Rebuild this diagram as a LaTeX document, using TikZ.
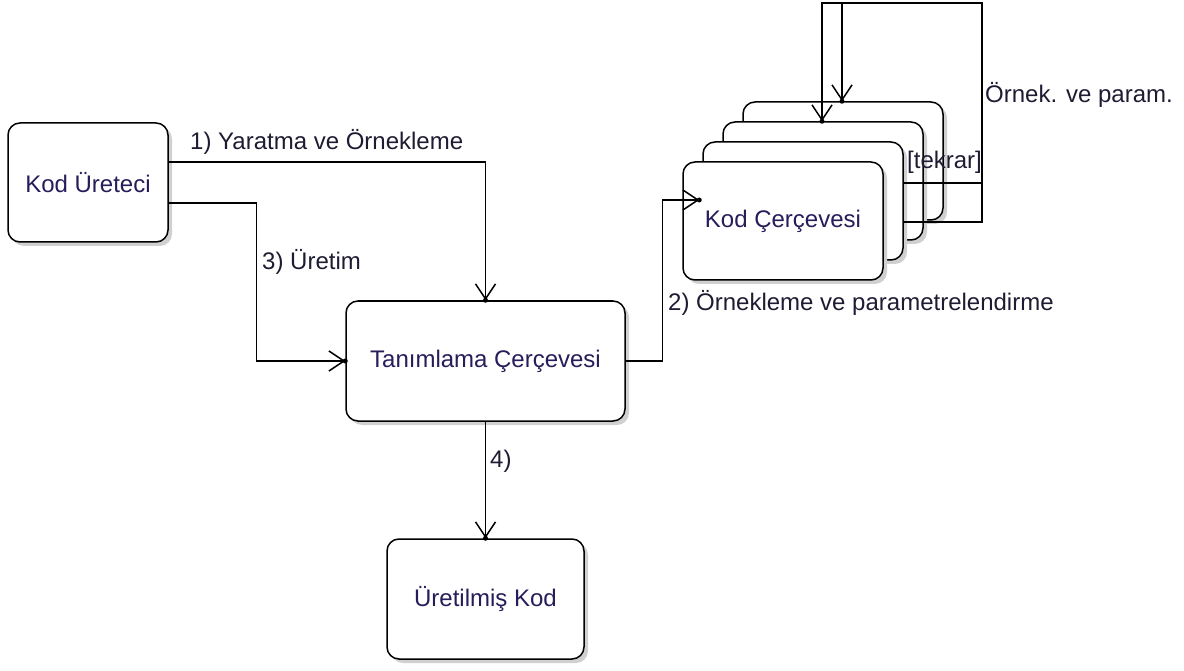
\documentclass[tikz,border=0pt]{standalone}
\usepackage{fontspec}
\setmainfont{Liberation Sans}
\usetikzlibrary{arrows.meta,calc}
\definecolor{nodetext}{RGB}{40,28,90}
\definecolor{labeltext}{RGB}{30,28,50}
\definecolor{shadowgrey}{RGB}{208,208,208}
\newcommand{\boxshade}[4]{%
  \fill[shadowgrey, rounded corners=12pt] ({#1-#3/2+4},{#2-#4/2+4}) rectangle ({#1+#3/2+4},{#2+#4/2+4});}
\begin{document}
\begin{tikzpicture}[x=1pt,y=-1pt,
  box/.style={draw, line width=1.5pt, fill=white, rounded corners=12pt, inner sep=0pt,
    font=\fontsize{24}{28}\selectfont, text=nodetext},
  conn/.style={line width=1.5pt, -{Straight Barb[length=15pt,width=20pt]}},
  lbl/.style={font=\fontsize{24}{28}\selectfont, text=labeltext, inner sep=0pt, anchor=west},
  tipdot/.style={fill=black},
]
\useasboundingbox (0,0) rectangle (1184,671);

% main boxes
\boxshade{88}{182.5}{160}{119}
\node[box, minimum width=160pt, minimum height=119pt] (ku) at (88,182.5) {Kod Üreteci};
\boxshade{485.5}{361}{279}{120}
\node[box, minimum width=279pt, minimum height=120pt] (tc) at (485.5,361) {Tanımlama Çerçevesi};
\boxshade{485.5}{599}{197}{120}
\node[box, minimum width=197pt, minimum height=120pt] (uk) at (485.5,599) {Üretilmiş Kod};

% stacked Kod Cercevesi boxes (back to front)
\boxshade{843}{161}{200}{118}
\node[box, minimum width=200pt, minimum height=118pt] (kc4) at (843,161) {};
\boxshade{823}{181}{200}{118}
\node[box, minimum width=200pt, minimum height=118pt] (kc3) at (823,181) {};
\boxshade{803}{201}{200}{118}
\node[box, minimum width=200pt, minimum height=118pt] (kc2) at (803,201) {};
\boxshade{783}{221}{200}{118}
\node[box, minimum width=200pt, minimum height=118pt] (kc) at (783,221) {Kod Çerçevesi};

% connectors
\draw[conn] ($(ku.east)+(0,-20.5)$) -| (tc.north);
\draw[conn] ($(ku.east)+(0,20.5)$) -| ($(tc.west)+(-89,0)$) -- (tc.west);
\coordinate (kcin) at ($(kc.west)+(17,-21)$);
\draw[conn] (tc.east) -| ($(kc.west)+(-20,-21)$) -- (kcin);
\draw[conn] (tc.south) -- (uk.north);

% self loops
\coordinate (loopc) at (982,3);
\draw[conn] ($(kc2.east)+(0,-18)$) -| (loopc) -| ($(kc3.north)+(-1,0)$);
\draw[conn] ($(kc2.east)+(0,21)$) -| (loopc) -| ($(kc4.north)+(-1,0)$);

% tip dots
\fill[tipdot] (tc.north) circle (2.5);
\fill[tipdot] (tc.west) circle (2.5);
\fill[tipdot] (uk.north) circle (2.5);
\fill[tipdot] (kcin) circle (2.5);
\fill[tipdot] ($(kc3.north)+(-1,0)$) circle (2.5);
\fill[tipdot] ($(kc4.north)+(-1,0)$) circle (2.5);

% labels
\node[lbl] (l1) at (190,142) {1) Yaratma ve Örnekleme};
\node[lbl] (l3) at (262,262) {3) Üretim};
\node[lbl] (l4) at (490,461) {4)};
\node[lbl] (l2) at (668,303) {2) Örnekleme ve parametrelendirme};
\node[lbl] (lt) at (907,162) {[tekrar]};
\node[lbl] (lo) at (985,95) {Örnek. ve param.};
\end{tikzpicture}
\end{document}
